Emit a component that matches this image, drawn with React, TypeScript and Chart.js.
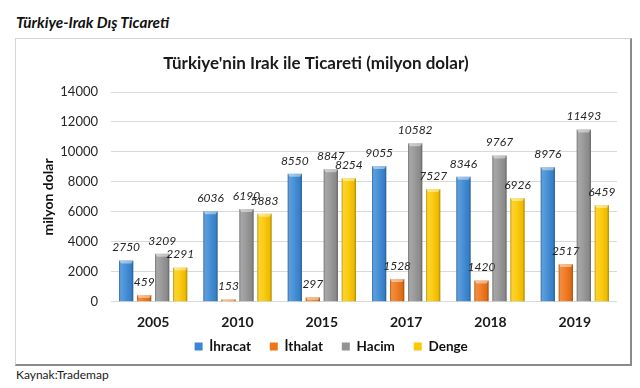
import React, { useEffect, useRef } from "react";
import { Chart, registerables } from "chart.js";

Chart.register(...registerables);

const categories = ["2005", "2010", "2015", "2017", "2018", "2019"];
const ihracat = [2750, 6036, 8550, 9055, 8346, 8976];
const ithalat = [459, 153, 297, 1528, 1420, 2517];
const hacim = [3209, 6190, 8847, 10582, 9767, 11493];
const denge = [2291, 5883, 8254, 7527, 6926, 6459];
const seriesNames = ["İhracat", "İthalat", "Hacim", "Denge"];
const seriesColors = ["#3a88d4", "#ef7417", "#939393", "#fcc800"];
const yMin = 0;
const yMax = 14000;
const yStep = 2000;

const FONT = "Lato, 'Noto Sans', sans-serif";

const barLook = {
  id: "barLook",
  afterDatasetsDraw(chart: any) {
    const ctx = chart.ctx;
    ctx.save();
    chart.data.datasets.forEach((ds: any, di: number) => {
      const meta = chart.getDatasetMeta(di);
      if (meta.hidden) return;
      meta.data.forEach((el: any, i: number) => {
        const { x, y, base, width } = el.getProps(["x", "y", "base", "width"], true);
        const left = x - width / 2;
        const h = base - y;
        const g = ctx.createLinearGradient(left, 0, left + width, 0);
        g.addColorStop(0, "rgba(0,0,0,0.28)");
        g.addColorStop(0.12, "rgba(255,255,255,0.18)");
        g.addColorStop(0.45, "rgba(255,255,255,0.08)");
        g.addColorStop(0.85, "rgba(0,0,0,0.06)");
        g.addColorStop(1, "rgba(0,0,0,0.32)");
        ctx.fillStyle = g;
        ctx.fillRect(left, y, width, h);
        const capH = Math.min(3, h);
        ctx.fillStyle = "rgba(255,255,255,0.45)";
        ctx.beginPath();
        ctx.moveTo(left, y);
        ctx.lineTo(left + width, y);
        ctx.lineTo(left + width - 2, y + capH);
        ctx.lineTo(left + 2, y + capH);
        ctx.closePath();
        ctx.fill();
        const v = ds.data[i];
        ctx.fillStyle = "#262626";
        ctx.font = `italic 12px ${FONT}`;
        ctx.textAlign = "center";
        ctx.textBaseline = "middle";
        ctx.fillText(String(v), x, y - 13);
      });
    });
    ctx.restore();
  },
};

export default function App() {
  const ref = useRef<HTMLCanvasElement | null>(null);
  useEffect(() => {
    if (!ref.current) return;
    const data = [ihracat, ithalat, hacim, denge];
    const chart = new Chart(ref.current, {
      type: "bar",
      data: {
        labels: categories,
        datasets: seriesNames.map((name, k) => ({
          label: name,
          data: data[k],
          backgroundColor: seriesColors[k],
          borderWidth: 0,
          categoryPercentage: 0.854,
          barPercentage: 0.79,
        })),
      },
      options: {
        animation: false,
        responsive: false,
        maintainAspectRatio: false,
        devicePixelRatio: 1,
        layout: { padding: { top: 2, right: 15, bottom: 2.7, left: 0 } },
        plugins: {
          title: {
            display: true,
            text: "Türkiye'nin Irak ile Ticareti (milyon dolar)",
            color: "#1a1a1a",
            font: { family: FONT, size: 17, weight: "bold" },
            padding: { top: 13.8, bottom: 17.8 },
          },
          legend: {
            position: "bottom",
            labels: {
              boxWidth: 8,
              boxHeight: 8,
              padding: 9,
              color: "#111",
              font: { family: FONT, size: 13.5, weight: "bold" },
              generateLabels: (c: any) => {
                const items = Chart.defaults.plugins.legend.labels.generateLabels(c);
                const spacer = {
                  text: "  ",
                  fillStyle: "rgba(0,0,0,0)",
                  strokeStyle: "rgba(0,0,0,0)",
                  lineWidth: 0,
                  hidden: false,
                  datasetIndex: -1,
                };
                return [
                  spacer,
                  ...items.map((it: any, i: number) => ({
                    ...it,
                    text: i < items.length - 1 ? it.text + "   " : it.text,
                  })),
                ];
              },
            },
          },
          tooltip: { enabled: false },
        },
        scales: {
          x: {
            grid: { display: false, drawTicks: false },
            border: { display: false },
            ticks: {
              color: "#1a1a1a",
              padding: 12,
              font: { family: FONT, size: 14, weight: "bold" },
            },
            afterFit: (s: any) => {
              s.height = 29;
            },
          },
          y: {
            min: yMin,
            max: yMax,
            ticks: {
              stepSize: yStep,
              color: "#262626",
              padding: 13,
              font: { family: FONT, size: 13 },
              callback: (v: any) => String(v),
            },
            grid: { color: "#d9d9d9", drawTicks: false },
            border: { display: false },
            title: {
              display: true,
              text: "milyon dolar",
              color: "#111",
              font: { family: FONT, size: 14, weight: "bold" },
              padding: { top: 25, bottom: 0 },
            },
            afterFit: (s: any) => {
              s.width = 96;
            },
          },
        },
      },
      plugins: [barLook],
    });
    return () => chart.destroy();
  }, []);

  return (
    <div
      style={{
        position: "fixed",
        left: 0,
        top: 0,
        width: 640,
        height: 388,
        background: "#fff",
        fontFamily: FONT,
      }}
    >
      <div
        style={{
          position: "absolute",
          left: 16,
          top: 12,
          fontSize: 15.3,
          lineHeight: "20px",
          fontWeight: "bold",
          fontStyle: "italic",
          color: "#111",
        }}
      >
        Türkiye-Irak Dış Ticareti
      </div>
      <div
        style={{
          position: "absolute",
          left: 15,
          top: 38,
          width: 617,
          height: 328,
          boxSizing: "border-box",
          borderLeft: "1.5px solid #d6d6d6",
          borderTop: "1.5px solid #d6d6d6",
          borderRight: "2px solid #8a8a8a",
          borderBottom: "2px solid #8a8a8a",
        }}
      />
      <canvas
        ref={ref}
        width={617}
        height={328}
        style={{ position: "absolute", left: 15, top: 38, width: 617, height: 328 }}
      />
      <div
        style={{
          position: "absolute",
          left: 16,
          top: 367,
          fontSize: 12,
          lineHeight: "16px",
          color: "#1a1a1a",
        }}
      >
        Kaynak:Trademap
      </div>
    </div>
  );
}
